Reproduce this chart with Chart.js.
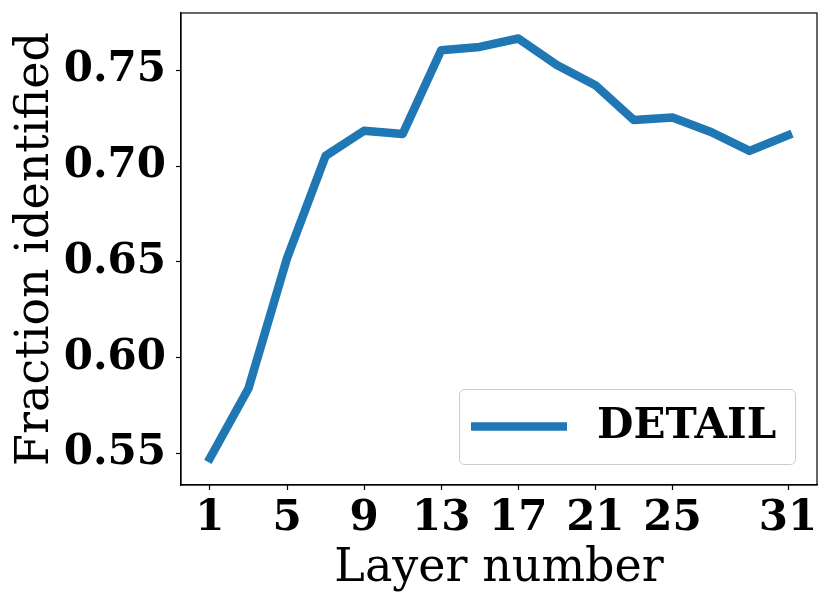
<!DOCTYPE html>
<html>
<head>
<meta charset="utf-8">
<script src="https://cdn.jsdelivr.net/npm/chart.js@4/dist/chart.umd.min.js"></script>
<style>
  html, body { margin: 0; padding: 0; background: #fff; }
  #wrap { width: 830px; height: 605px; position: relative; }
</style>
</head>
<body>
<div id="wrap"><canvas id="chart"></canvas></div>
<script>
// layer index vs. fraction identified
const layers = [1, 3, 5, 7, 9, 11, 13, 15, 17, 19, 21, 23, 25, 27, 29, 31];
const fraction = [0.5475, 0.5839, 0.6519, 0.7053, 0.7184, 0.7167, 0.7605, 0.7622,
                  0.7666, 0.7527, 0.7422, 0.7240, 0.7254, 0.7178, 0.7079, 0.7161];
const xTicks = [1, 5, 9, 13, 17, 21, 25, 31];
const yTicks = [0.55, 0.60, 0.65, 0.70, 0.75];
const seriesLabel = 'DETAIL';

const SERIF = '"DejaVu Serif", "Liberation Serif", serif';
const BLUE = '#1f77b4';
const TICK_SIZE = 42;

// top/right frame lines of the axes box
const framePlugin = {
    id: 'frame',
    afterDraw(chart) {
        const {ctx, chartArea: a} = chart;
        ctx.save();
        ctx.strokeStyle = '#000';
        ctx.lineWidth = 1.2;
        ctx.strokeRect(a.left, a.top, a.right - a.left, a.bottom - a.top);
        ctx.restore();
    }
};

// matplotlib style legend, lower right inside the plot
const legendPlugin = {
    id: 'boxLegend',
    afterDraw(chart) {
        const {ctx, chartArea: a} = chart;
        const ds = chart.data.datasets[0];
        const w = 336, h = 75;
        const x = a.right - 22 - w, y = a.bottom - 21 - h;
        ctx.save();
        ctx.fillStyle = 'rgba(255,255,255,0.8)';
        ctx.strokeStyle = '#cccccc';
        ctx.lineWidth = 1;
        ctx.beginPath();
        ctx.roundRect(x + 0.5, y + 0.5, w, h, 5);
        ctx.fill();
        ctx.stroke();
        const cy = y + h / 2;
        ctx.strokeStyle = ds.borderColor;
        ctx.lineWidth = ds.borderWidth;
        ctx.lineCap = 'butt';
        ctx.beginPath();
        ctx.moveTo(x + 12, cy);
        ctx.lineTo(x + 108, cy);
        ctx.stroke();
        ctx.fillStyle = '#000';
        ctx.font = 'bold ' + TICK_SIZE + 'px ' + SERIF;
        ctx.textBaseline = 'middle';
        ctx.textAlign = 'left';
        ctx.fillText(ds.label, x + 138, cy + 1);
        ctx.restore();
    }
};

new Chart(document.getElementById('chart'), {
    type: 'line',
    data: {
        datasets: [{
            label: seriesLabel,
            data: layers.map((l, i) => ({x: l, y: fraction[i]})),
            borderColor: BLUE,
            backgroundColor: BLUE,
            borderWidth: 8.5,
            borderCapStyle: 'square',
            borderJoinStyle: 'round',
            pointRadius: 0,
            tension: 0,
            fill: false
        }]
    },
    options: {
        responsive: true,
        maintainAspectRatio: false,
        animation: false,
        layout: {padding: {top: 13, right: 13, left: 0, bottom: 0}},
        plugins: {
            legend: {display: false},
            tooltip: {enabled: false}
        },
        scales: {
            x: {
                type: 'linear',
                min: -0.5,
                max: 32.5,
                afterBuildTicks: s => { s.ticks = xTicks.map(v => ({value: v})); },
                afterFit: s => { s.height = 120; s.paddingLeft = 0; s.paddingRight = 0; },
                grid: {drawOnChartArea: false, drawTicks: true, tickLength: 5, color: '#000', tickWidth: 1.2},
                border: {display: true, color: '#000', width: 1.2},
                ticks: {
                    color: '#000',
                    padding: 4,
                    maxRotation: 0,
                    autoSkip: false,
                    font: {family: SERIF, size: TICK_SIZE, weight: 'bold'},
                    callback: v => String(v)
                },
                title: {
                    display: true,
                    text: 'Layer number',
                    color: '#000',
                    padding: {top: 0, bottom: 8},
                    font: {family: SERIF, size: 46, weight: 'normal'}
                }
            },
            y: {
                min: 0.5335,
                max: 0.7799,
                afterBuildTicks: s => { s.ticks = yTicks.map(v => ({value: v})); },
                afterFit: s => { s.width = 181; s.paddingTop = 0; s.paddingBottom = 0; },
                grid: {drawOnChartArea: false, drawTicks: true, tickLength: 5, color: '#000', tickWidth: 1.2},
                border: {display: true, color: '#000', width: 1.2},
                ticks: {
                    color: '#000',
                    padding: 10,
                    font: {family: SERIF, size: TICK_SIZE, weight: 'bold'},
                    callback: v => Number(v).toFixed(2)
                },
                title: {
                    display: true,
                    text: 'Fraction identified',
                    color: '#000',
                    padding: {top: 8, bottom: 0},
                    font: {family: SERIF, size: 46, weight: 'normal'}
                }
            }
        }
    },
    plugins: [framePlugin, legendPlugin]
});
</script>
</body>
</html>
